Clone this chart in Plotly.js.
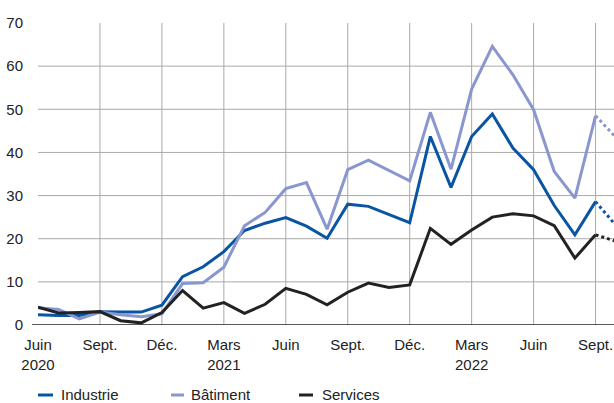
<!DOCTYPE html>
<html>
<head>
<meta charset="utf-8">
<script src="https://cdn.plot.ly/plotly-3.0.1.min.js"></script>
<style>
  html, body { margin: 0; padding: 0; background: #fff; }
  #chart { width: 614px; height: 403px; }
</style>
</head>
<body>
<div id="chart"></div>
<script>
// ---- Data ----
const months = ["2020-06","2020-07","2020-08","2020-09","2020-10","2020-11","2020-12",
  "2021-01","2021-02","2021-03","2021-04","2021-05","2021-06","2021-07","2021-08","2021-09",
  "2021-10","2021-11","2021-12","2022-01","2022-02","2022-03","2022-04","2022-05","2022-06",
  "2022-07","2022-08","2022-09"];
const nextMonth = "2022-10";

const industrie = [2.4, 2.2, 2.2, 3.1, 3.0, 3.0, 4.6, 11.2, 13.5, 17.0, 21.9, 23.6, 24.9, 22.9,
  20.1, 28.0, 27.5, 25.6, 23.7, 43.7, 31.9, 43.7, 48.9, 41.0, 36.0, 27.7, 20.9, 28.6];
const batiment = [4.0, 3.6, 1.4, 3.0, 2.4, 1.9, 2.6, 9.6, 9.8, 13.4, 23.0, 26.1, 31.6, 33.0,
  22.2, 36.0, 38.2, 35.8, 33.4, 49.3, 36.1, 54.7, 64.6, 58.0, 49.9, 35.6, 29.4, 48.5];
const services = [4.1, 2.8, 2.9, 3.1, 1.0, 0.5, 2.9, 8.0, 3.9, 5.2, 2.7, 4.8, 8.5, 7.1,
  4.7, 7.6, 9.7, 8.7, 9.3, 22.4, 18.7, 22.0, 25.0, 25.8, 25.3, 23.0, 15.5, 20.9];

// Projected next month (dotted)
const industrieNext = 23.0;
const batimentNext = 43.4;
const servicesNext = 19.4;

const seriesNames = ["Industrie", "Bâtiment", "Services"];
const colors = ["#0a55a3", "#8a97cf", "#222222"];

const tickMonths = ["2020-06","2020-09","2020-12","2021-03","2021-06","2021-09","2021-12","2022-03","2022-06","2022-09"];
const tickLabels = ["Juin<br>2020","Sept.","Déc.","Mars<br>2021","Juin","Sept.","Déc.","Mars<br>2022","Juin","Sept."];
const yTicks = [0, 10, 20, 30, 40, 50, 60, 70];

// ---- Layout geometry ----
const W = 614, H = 403;
const mL = 38, mR = 0, mT = 23, mB = 78;
const plotW = W - mL - mR, plotH = H - mT - mB;
const pxX = p => (p - mL) / plotW;
const pxY = p => (H - mB - p) / plotH;

const allMonths = months.concat([nextMonth]);
const xMax = plotW / 20.65; // category units visible

const FONT = "'Liberation Sans', Arial, sans-serif";
const FS = 15;

const seriesData = [industrie, batiment, services];
const nextVals = [industrieNext, batimentNext, servicesNext];

const traces = [];
seriesData.forEach((vals, i) => {
  traces.push({
    x: months, y: vals, type: "scatter", mode: "lines",
    name: seriesNames[i], showlegend: false,
    line: { color: colors[i], width: 3 }, hoverinfo: "skip"
  });
  traces.push({
    x: [months[months.length - 1], nextMonth],
    y: [vals[vals.length - 1], nextVals[i]],
    type: "scatter", mode: "lines", showlegend: false,
    line: { color: colors[i], width: 3, dash: "dot" }, hoverinfo: "skip"
  });
});

// Gridlines
const shapes = [];
tickMonths.slice(1).forEach(m => {
  shapes.push({ type: "line", xref: "x", yref: "y", x0: m, x1: m, y0: 0, y1: 70,
    line: { color: "#a9a9a9", width: 1 }, layer: "below" });
});
yTicks.filter(v => v > 0 && v < 70).forEach(v => {
  shapes.push({ type: "line", xref: "paper", yref: "y", x0: 0, x1: 1, y0: v, y1: v,
    line: { color: "#a9a9a9", width: 1 }, layer: "below" });
});
// baseline
shapes.push({ type: "line", xref: "paper", yref: "y", x0: pxX(32), x1: 1, y0: 0, y1: 0,
  line: { color: "#222222", width: 1.6 }, layer: "above" });

// Custom legend
const legendX = [[38, 53, 60], [171, 184, 190], [299, 313, 321]];
const legendY = 394;
const annotations = [];
seriesNames.forEach((n, i) => {
  shapes.push({ type: "line", xref: "paper", yref: "paper",
    x0: pxX(legendX[i][0]), x1: pxX(legendX[i][1]), y0: pxY(legendY + 1), y1: pxY(legendY + 1),
    line: { color: colors[i], width: 3 } });
  annotations.push({ xref: "paper", yref: "paper", x: pxX(legendX[i][2]), y: pxY(legendY),
    xanchor: "left", yanchor: "middle", text: n, showarrow: false, borderpad: 0,
    font: { family: FONT, size: FS, color: "#222" } });
});

const layout = {
  width: W, height: H,
  margin: { l: mL, r: mR, t: mT, b: mB, pad: 0 },
  paper_bgcolor: "#fff", plot_bgcolor: "#fff",
  font: { family: FONT, size: FS, color: "#222" },
  xaxis: {
    type: "category", categoryorder: "array", categoryarray: allMonths,
    range: [0, xMax],
    tickvals: tickMonths, ticktext: tickLabels,
    showgrid: false, zeroline: false, showline: false,
    ticks: "", ticklabelstandoff: 9,
    tickfont: { family: FONT, size: FS, color: "#222" },
    fixedrange: true
  },
  yaxis: {
    range: [0, 70], tickvals: yTicks,
    showgrid: false, zeroline: false, showline: false,
    ticks: "", ticklabelstandoff: 14,
    tickfont: { family: FONT, size: FS, color: "#222" },
    fixedrange: true
  },
  shapes: shapes,
  annotations: annotations,
  showlegend: false
};

Plotly.newPlot("chart", traces, layout, { displayModeBar: false, staticPlot: true });
</script>
</body>
</html>
